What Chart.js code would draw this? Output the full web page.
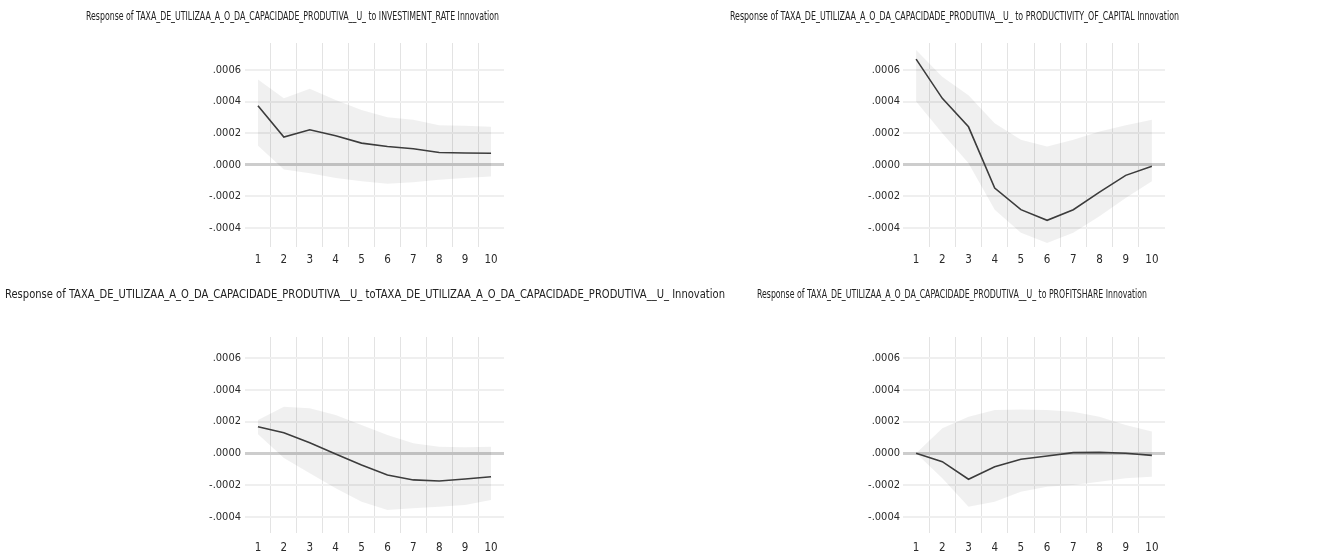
<!DOCTYPE html>
<html>
<head>
<meta charset="utf-8">
<script src="https://cdn.jsdelivr.net/npm/chart.js@4.4.0/dist/chart.umd.min.js"></script>
<style>
  html, body { margin: 0; padding: 0; background: #ffffff; }
  #wrap { position: relative; width: 1334px; height: 557px; overflow: hidden; background: #fff; }
  canvas { position: absolute; left: 0; top: 0; }
</style>
</head>
<body>
<div id="wrap">
  <canvas id="c1" width="1334" height="557"></canvas>
  <canvas id="c2" width="1334" height="557"></canvas>
  <canvas id="c3" width="1334" height="557"></canvas>
  <canvas id="c4" width="1334" height="557"></canvas>
</div>
<script>
// ---------- data ----------
const periods = ['1', '2', '3', '4', '5', '6', '7', '8', '9', '10'];
const yTickValues = [-0.0004, -0.0002, 0, 0.0002, 0.0004, 0.0006];

const titleInvestment = 'Response of TAXA_DE_UTILIZAA_A_O_DA_CAPACIDADE_PRODUTIVA__U_ to INVESTIMENT_RATE Innovation';
const titleProductivity = 'Response of TAXA_DE_UTILIZAA_A_O_DA_CAPACIDADE_PRODUTIVA__U_ to PRODUCTIVITY_OF_CAPITAL Innovation';
const titleOwn = 'Response of TAXA_DE_UTILIZAA_A_O_DA_CAPACIDADE_PRODUTIVA__U_ toTAXA_DE_UTILIZAA_A_O_DA_CAPACIDADE_PRODUTIVA__U_ Innovation';
const titleProfit = 'Response of TAXA_DE_UTILIZAA_A_O_DA_CAPACIDADE_PRODUTIVA__U_ to PROFITSHARE Innovation';

const investmentResponse = [0.000373, 0.000175, 0.000221, 0.000183, 0.000137, 0.000116, 0.000101, 0.000078, 0.000074, 0.000073];
const investmentUpper    = [0.00054, 0.00042, 0.00048, 0.00041, 0.000347, 0.0003, 0.000284, 0.00025, 0.000246, 0.00024];
const investmentLower    = [0.00012, -0.00003, -0.000053, -0.000084, -0.000105, -0.00012, -0.00011, -0.000095, -0.000084, -0.000074];

const productivityResponse = [0.000668, 0.00042, 0.00024, -0.000147, -0.000284, -0.000351, -0.000284, -0.000173, -0.000067, -0.00001];
const productivityUpper    = [0.000726, 0.000557, 0.00044, 0.000263, 0.000158, 0.000116, 0.000158, 0.00021, 0.00025, 0.000284];
const productivityLower    = [0.0004, 0.0002, 0.00001, -0.000284, -0.00043, -0.000494, -0.00043, -0.000326, -0.00021, -0.000105];

const ownResponse = [0.000168, 0.00013, 0.000067, -0.000004, -0.000074, -0.000137, -0.000168, -0.000175, -0.000162, -0.000148];
const ownUpper    = [0.00021, 0.000294, 0.000284, 0.000242, 0.000179, 0.000116, 0.000063, 0.000042, 0.000038, 0.000042];
const ownLower    = [0.00012, -0.00003, -0.000126, -0.00022, -0.000305, -0.000358, -0.000347, -0.000337, -0.000326, -0.000295];

const profitResponse = [0, -0.000053, -0.000164, -0.000085, -0.000038, -0.000017, 0.000004, 0.000006, 0, -0.000013];
const profitUpper    = [0, 0.000158, 0.000231, 0.000273, 0.000276, 0.000273, 0.000263, 0.000231, 0.000179, 0.000137];
const profitLower    = [0, -0.000158, -0.000337, -0.000305, -0.000242, -0.000211, -0.0002, -0.00018, -0.000158, -0.000148];

// ---------- layout (pixels) ----------
const W = 1334, H = 557;
const Y_AXIS_W = 50, X_AXIS_H = 30;
const FONT = "'Liberation Sans Narrow', 'DejaVu Sans Condensed', 'Arial Narrow', sans-serif";

function fmtTick(v) {
  if (Math.abs(v) < 1e-12) return '.0000';
  return (v < 0 ? '-' : '') + Math.abs(v).toFixed(4).replace(/^0/, '');
}

const titlePlugin = {
  id: 'squeezedTitle',
  afterDraw(chart, args, opts) {
    const ctx = chart.ctx;
    ctx.save();
    ctx.font = '11.5px ' + FONT;
    ctx.fillStyle = '#222222';
    ctx.textAlign = 'center';
    ctx.textBaseline = 'middle';
    const w = ctx.measureText(opts.text).width;
    const sx = opts.width / w;
    ctx.translate(opts.cx, opts.cy);
    ctx.scale(sx, 1);
    ctx.fillText(opts.text, 0, 0);
    ctx.restore();
  }
};

function makeChart(id, title, resp, upper, lower, box) {
  const ctx = document.getElementById(id);
  return new Chart(ctx, {
    type: 'line',
    data: {
      labels: periods,
      datasets: [
        { data: resp, borderColor: '#3c3c3c', borderWidth: 1.6, pointRadius: 0, tension: 0, fill: false },
        { data: upper, borderWidth: 0, borderColor: 'rgba(0,0,0,0)', backgroundColor: 'rgba(0,0,0,0.06)', pointRadius: 0, tension: 0, fill: '+1' },
        { data: lower, borderWidth: 0, borderColor: 'rgba(0,0,0,0)', pointRadius: 0, tension: 0, fill: false }
      ]
    },
    options: {
      responsive: false,
      animation: false,
      devicePixelRatio: 1,
      layout: {
        padding: {
          left: box.left - Y_AXIS_W,
          right: W - box.right,
          top: box.top,
          bottom: H - box.bottom - X_AXIS_H
        }
      },
      plugins: {
        legend: { display: false },
        tooltip: { enabled: false },
        title: { display: false },
        squeezedTitle: { text: title, cx: box.titleX, cy: box.titleY, width: box.titleW }
      },
      scales: {
        x: {
          type: 'category',
          offset: true,
          border: { display: false },
          grid: {
            offset: true,
            drawTicks: false,
            lineWidth: 1,
            color: (c) => (c.index === undefined || c.index === 0) ? 'rgba(0,0,0,0)' : '#e3e3e3'
          },
          ticks: { padding: box.xPad, color: '#2a2a2a', font: { family: FONT, size: 11.5 }, maxRotation: 0, autoSkip: false },
          afterFit: (s) => { s.height = X_AXIS_H; }
        },
        y: {
          min: box.yMin,
          max: box.yMax,
          border: { display: false },
          afterBuildTicks: (s) => { s.ticks = yTickValues.map(v => ({ value: v })); },
          grid: {
            drawTicks: false,
            color: (c) => (c.tick && Math.abs(c.tick.value) < 1e-12) ? '#cdcdcd' : '#efefef',
            lineWidth: (c) => (c.tick && Math.abs(c.tick.value) < 1e-12) ? 3 : 2
          },
          ticks: { padding: box.yPad, color: '#2a2a2a', font: { family: FONT, size: 11 }, callback: (v) => fmtTick(v) },
          afterFit: (s) => { s.width = Y_AXIS_W; }
        }
      }
    },
    plugins: [titlePlugin]
  });
}

makeChart('c1', titleInvestment, investmentResponse, investmentUpper, investmentLower,
  { left: 245, right: 504, top: 43, bottom: 247, yMin: -0.00052, yMax: 0.00077, xPad: 6, yPad: 4, titleX: 292.5, titleY: 17, titleW: 413 });
makeChart('c2', titleProductivity, productivityResponse, productivityUpper, productivityLower,
  { left: 903, right: 1165, top: 43, bottom: 247, yMin: -0.00052, yMax: 0.00077, xPad: 6, yPad: 3, titleX: 954.5, titleY: 17, titleW: 449 });
makeChart('c3', titleOwn, ownResponse, ownUpper, ownLower,
  { left: 245, right: 504, top: 337, bottom: 533, yMin: -0.000503, yMax: 0.000734, xPad: 8, yPad: 4, titleX: 365, titleY: 295, titleW: 720 });
makeChart('c4', titleProfit, profitResponse, profitUpper, profitLower,
  { left: 903, right: 1165, top: 337, bottom: 533, yMin: -0.000503, yMax: 0.000734, xPad: 8, yPad: 3, titleX: 952, titleY: 295, titleW: 390 });
</script>
</body>
</html>
